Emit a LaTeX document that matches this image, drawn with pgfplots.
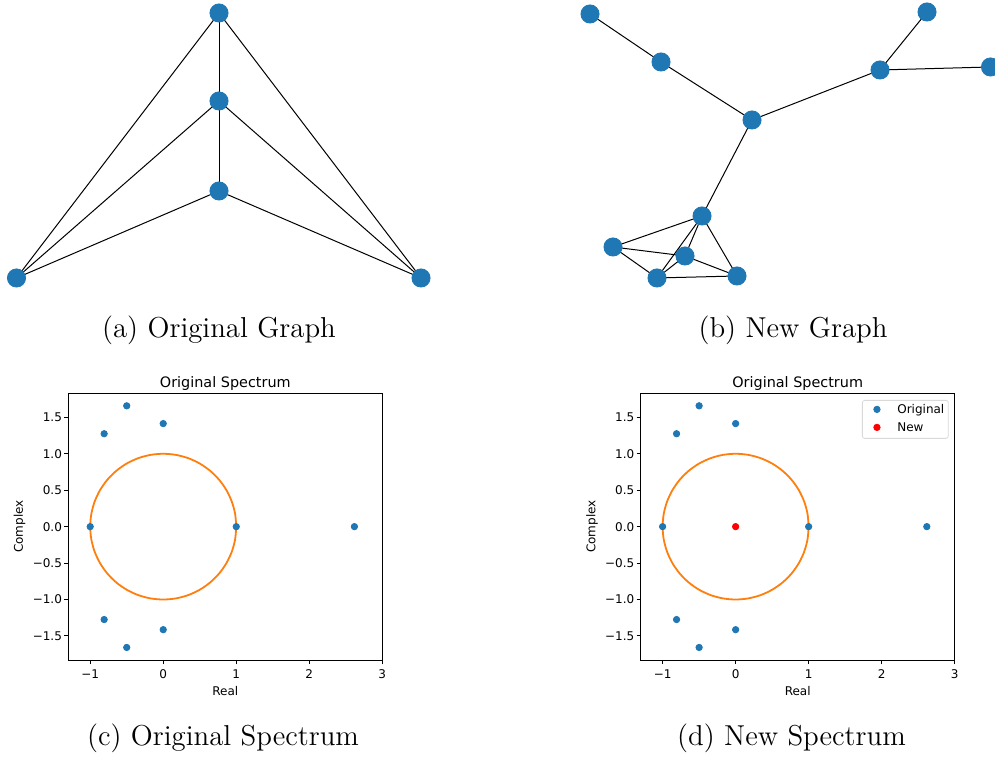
\documentclass[border=0pt]{standalone}
\usepackage{fontspec}
\usepackage{pgfplots}
\usepackage{pgfplotstable}
\pgfplotsset{compat=1.18}
\newfontfamily\dejavu{DejaVu Sans}
\definecolor{tabblue}{HTML}{1F77B4}
\definecolor{taborange}{HTML}{FF7F0E}

% eigenvalues of the original graph (real, imaginary)
\pgfplotstableread{
x y
-1 0
1 0
2.618 0
0 1.414
0 -1.414
-0.5 1.658
-0.5 -1.658
-0.809 1.275
-0.809 -1.275
}\origspec

\pgfplotstableread{
x y
0 0
}\newspec

% unit circle, every 10 degrees
\pgfplotstableread{
x y
1 0
0.9848 0.1736
0.9397 0.3420
0.8660 0.5
0.7660 0.6428
0.6428 0.7660
0.5 0.8660
0.3420 0.9397
0.1736 0.9848
0 1
-0.1736 0.9848
-0.3420 0.9397
-0.5 0.8660
-0.6428 0.7660
-0.7660 0.6428
-0.8660 0.5
-0.9397 0.3420
-0.9848 0.1736
-1 0
-0.9848 -0.1736
-0.9397 -0.3420
-0.8660 -0.5
-0.7660 -0.6428
-0.6428 -0.7660
-0.5 -0.8660
-0.3420 -0.9397
-0.1736 -0.9848
0 -1
0.1736 -0.9848
0.3420 -0.9397
0.5 -0.8660
0.6428 -0.7660
0.7660 -0.6428
0.8660 -0.5
0.9397 -0.3420
0.9848 -0.1736
1 0
}\unitcircle

% node positions of the two graphs (layout units)
\pgfplotstableread{
x y
219 745
219 657
219 567
16.5 480
421 480
}\graphA

\pgfplotstableread{
x y
590 744
661 696
752 638
880 688
927 746
990.5 691
702 542
613 511
685 502
657 480
737 482
}\graphB

\pgfplotsset{
  edge/.style={black, line width=0.5pt, forget plot},
  specaxis/.style={
    scale only axis, width=157pt, height=133.35pt,
    xmin=-1.3, xmax=3, ymin=-1.83, ymax=1.83,
    axis line style={line width=0.48pt},
    tick style={black, line width=0.48pt},
    tick align=outside, major tick length=2.1pt, tick pos=left,
    xtick={-1,0,1,2,3}, xticklabels={−1,0,1,2,3},
    ytick={-1.5,-1,-0.5,0,0.5,1,1.5},
    yticklabels={−1.5,−1.0,−0.5,0.0,0.5,1.0,1.5},
    ticklabel style={font=\dejavu\fontsize{6}{7}\selectfont},
    xticklabel style={anchor=north, inner sep=0pt, yshift=-2.6pt},
    yticklabel style={anchor=east, inner sep=0pt, xshift=-0.9pt},
    label style={font=\dejavu\fontsize{6}{7}\selectfont},
    xlabel=Real, ylabel=Complex,
    xlabel style={at={(axis description cs:0.5,-0.1315)}, anchor=base, inner sep=0pt},
    ylabel style={at={(axis description cs:-0.1445,0.5)}, anchor=base, inner sep=0pt},
    every axis title shift=0pt,
    title=Original Spectrum,
    title style={at={(axis description cs:0.5,1.022)}, anchor=base, inner sep=0pt,
      font=\dejavu\fontsize{7.2}{8.6}\selectfont},
  },
  dots/.style={only marks, mark=*, mark size=1.6pt, color=#1, mark options={solid, fill=#1}},
  gnode/.style={only marks, mark=*, mark size=4.55pt, color=tabblue, mark options={solid, fill=tabblue}},
}

\begin{document}
\begin{tikzpicture}
\useasboundingbox (0,0) rectangle (497.5pt,379pt);

% ---- graphs (a) and (b) ----
\begin{axis}[at={(0pt,0pt)}, anchor=south west, scale only axis,
  width=497.5pt, height=379pt, xmin=0, xmax=995, ymin=0, ymax=758,
  hide axis, clip=false]
  % (a)
  \addplot[edge] coordinates {(219,745) (219,657)};
  \addplot[edge] coordinates {(219,657) (219,567)};
  \addplot[edge] coordinates {(219,745) (16.5,480)};
  \addplot[edge] coordinates {(219,745) (421,480)};
  \addplot[edge] coordinates {(219,657) (16.5,480)};
  \addplot[edge] coordinates {(219,657) (421,480)};
  \addplot[edge] coordinates {(219,567) (16.5,480)};
  \addplot[edge] coordinates {(219,567) (421,480)};
  % (b)
  \addplot[edge] coordinates {(590,744) (661,696)};
  \addplot[edge] coordinates {(661,696) (752,638)};
  \addplot[edge] coordinates {(752,638) (880,688)};
  \addplot[edge] coordinates {(880,688) (927,746)};
  \addplot[edge] coordinates {(880,688) (990.5,691)};
  \addplot[edge] coordinates {(752,638) (702,542)};
  \addplot[edge] coordinates {(702,542) (613,511)};
  \addplot[edge] coordinates {(702,542) (685,502)};
  \addplot[edge] coordinates {(702,542) (657,480)};
  \addplot[edge] coordinates {(702,542) (737,482)};
  \addplot[edge] coordinates {(613,511) (685,502)};
  \addplot[edge] coordinates {(613,511) (657,480)};
  \addplot[edge] coordinates {(685,502) (657,480)};
  \addplot[edge] coordinates {(685,502) (737,482)};
  \addplot[edge] coordinates {(657,480) (737,482)};
  \addplot[gnode] table {\graphA};
  \addplot[gnode] table {\graphB};
\end{axis}

\node[font=\Large, anchor=base] at (109.5pt,210.35pt) {(a) Original Graph};
\node[font=\Large, anchor=base] at (396.5pt,210.35pt) {(b) New Graph};

% ---- spectrum (c) ----
\begin{axis}[specaxis, at={(34.15pt,49pt)}, anchor=south west]
  \addplot[taborange, line width=0.9pt, smooth, forget plot] table {\unitcircle};
  \addplot[dots=tabblue] table {\origspec};
\end{axis}

% ---- spectrum (d) ----
\begin{axis}[specaxis, at={(320.35pt,49pt)}, anchor=south west,
  legend style={at={(axis description cs:1,1)}, anchor=north east,
    xshift=-3pt, yshift=-3.35pt, draw=black!15, rounded corners=1.2pt,
    font=\dejavu\fontsize{6}{7}\selectfont,
    inner xsep=1pt, inner ysep=1pt, row sep=1pt, column sep=2.9pt,
    nodes={inner sep=1pt, text height=4.5pt, text depth=1.5pt, anchor=base west}},
  legend cell align=left,
  legend image code/.code={%
    \path[draw=none] (0pt,2pt) -- (12.6pt,2pt);
    \draw[#1] plot[only marks] coordinates {(6.3pt,2pt)};}]
  \addplot[taborange, line width=0.9pt, smooth, forget plot] table {\unitcircle};
  \addplot[dots=tabblue] table {\origspec};
  \addlegendentry{Original}
  \addplot[dots=red] table {\newspec};
  \addlegendentry{New}
\end{axis}

\node[font=\Large, anchor=base] at (111.5pt,6.15pt) {(c) Original Spectrum};
\node[font=\Large, anchor=base] at (395.75pt,6.15pt) {(d) New Spectrum};
\end{tikzpicture}
\end{document}
